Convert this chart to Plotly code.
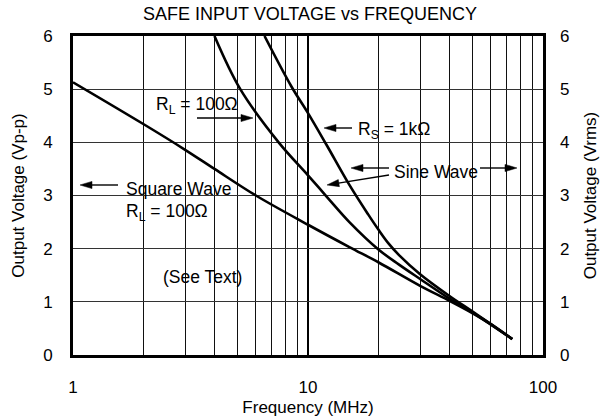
import math
import plotly.graph_objects as go

# ---- data ----
freq_square = [1, 2, 3, 4, 6, 10, 15, 20, 30, 40, 50, 60, 74]
volt_square = [5.13, 4.34, 3.86, 3.5, 3.0, 2.45, 2.03, 1.74, 1.3, 1.02, 0.79, 0.58, 0.3]

freq_sine_rl = [4.0, 5.15, 7.5, 10, 12, 15, 20, 24.4, 30, 40, 50, 60, 74]
volt_sine_rl = [6.0, 5.0, 4.0, 3.38, 2.98, 2.5, 1.98, 1.7, 1.43, 1.06, 0.8, 0.57, 0.3]

freq_sine_rs = [6.53, 8.5, 10, 12, 15, 18, 20, 22, 24.4, 30, 40, 50, 60, 74]
volt_sine_rs = [6.0, 5.05, 4.55, 3.95, 3.2, 2.65, 2.35, 2.1, 1.88, 1.52, 1.11, 0.82, 0.58, 0.3]

x_major_ticks = [1, 10, 100]
x_major_labels = ["1", "10", "100"]
x_minor_ticks = [2, 3, 4, 5, 6, 7, 8, 9, 20, 30, 40, 50, 60, 70, 80, 90]
y_ticks = [0, 1, 2, 3, 4, 5, 6]

FONT = "Liberation Sans, Arial, Helvetica, sans-serif"
W, H = 602, 420
L, R, T, B = 73, 59, 36, 65
PW, PH = W - L - R, H - T - B


def pxx(px):
    return (px - L) / PW


def pxy(py):
    return (H - B - py) / PH


fig = go.Figure()
line_style = dict(color="black", width=2.6, shape="spline", smoothing=1.0)
for fx, vy in [(freq_square, volt_square), (freq_sine_rl, volt_sine_rl), (freq_sine_rs, volt_sine_rs)]:
    fig.add_trace(go.Scatter(x=fx, y=vy, mode="lines", line=line_style,
                             showlegend=False, hoverinfo="skip"))
# right-hand axis (same scale)
fig.add_trace(go.Scatter(x=[freq_square[0]], y=[volt_square[0]], yaxis="y2", mode="lines",
                         line=dict(width=0), showlegend=False, hoverinfo="skip"))

# white boxes behind labels (above grid, below curves)
boxes = [(153, 93, 258, 126), (120, 176, 237, 223), (157, 262, 248, 292),
         (330, 112, 438, 148), (345, 161, 522, 183)]
shapes = []
for x0, y0, x1, y1 in boxes:
    shapes.append(dict(type="rect", xref="paper", yref="paper", x0=pxx(x0), x1=pxx(x1),
                       y0=pxy(y1), y1=pxy(y0), fillcolor="white", line=dict(width=0),
                       layer="between"))


def arrow(hx, hy, tx, ty, hl=12.0, hw=3.6):
    dx, dy = hx - tx, hy - ty
    d = math.hypot(dx, dy)
    ux, uy = dx / d, dy / d
    bx, by = hx - ux * hl, hy - uy * hl
    nx, ny = -uy * hw, ux * hw
    shapes.append(dict(type="line", xref="paper", yref="paper", x0=pxx(tx), y0=pxy(ty),
                       x1=pxx(bx + ux * 2), y1=pxy(by + uy * 2),
                       line=dict(color="black", width=1.4), layer="above"))
    pts = [(hx, hy), (bx + nx, by + ny), (bx - nx, by - ny)]
    path = "M " + " L ".join(f"{pxx(a):.5f},{pxy(b):.5f}" for a, b in pts) + " Z"
    shapes.append(dict(type="path", xref="paper", yref="paper", path=path,
                       fillcolor="black", line=dict(color="black", width=0.5), layer="above"))


tf = dict(family=FONT, size=17.5, color="black")
ann = []


def text(px, py, s, xanchor="center"):
    ann.append(dict(x=pxx(px), y=pxy(py), xref="paper", yref="paper", text=s,
                    showarrow=False, font=tf, xanchor=xanchor, yanchor="middle"))


text(197, 105, "R<sub>L</sub> = 100Ω")
arrow(253, 118, 197, 118)
text(124, 189, "Square Wave", "left")
text(124, 212, "R<sub>L</sub> = 100Ω", "left")
arrow(80, 185, 118, 185)
text(202, 277, "(See Text)")
text(356, 130, "R<sub>S</sub> = 1kΩ", "left")
arrow(324, 128, 352, 128)
text(392, 172, "Sine Wave", "left")
arrow(351, 168, 389, 168)
arrow(327, 185, 389, 175)
arrow(517, 168, 480, 168)

axis_font = dict(family=FONT, size=17, color="black")
fig.update_layout(
    width=W, height=H, margin=dict(l=L, r=R, t=T, b=B, autoexpand=False),
    paper_bgcolor="white", plot_bgcolor="white",
    font=axis_font,
    title=dict(text="SAFE INPUT VOLTAGE vs FREQUENCY", x=pxx(310), xref="paper",
               y=1 - 14 / H, yref="container", yanchor="middle", xanchor="center",
               font=dict(family=FONT, size=18)),
    xaxis=dict(type="log", range=[0, 2], tickvals=x_major_ticks, ticktext=x_major_labels,
               showgrid=True, gridcolor="black", gridwidth=2.2, zeroline=False, automargin=False,
               showline=True, linecolor="black", linewidth=2.8, mirror=True,
               ticks="", ticklabelstandoff=15, tickfont=axis_font,
               title=dict(text="Frequency (MHz)", font=axis_font, standoff=5),
               minor=dict(tickvals=x_minor_ticks, showgrid=True, gridcolor="#111", gridwidth=1.1,
                          ticks="")),
    yaxis=dict(range=[0, 6], tickvals=y_ticks, showgrid=True, gridcolor="#333", gridwidth=1.2,
               zeroline=False, showline=True, linecolor="black", linewidth=2.8, mirror=True,
               automargin=False, ticks="", ticklabelstandoff=14, tickfont=axis_font,
               title=dict(text="Output Voltage (Vp-p)", font=axis_font, standoff=15)),
    yaxis2=dict(range=[0, 6], tickvals=y_ticks, overlaying="y", side="right", showgrid=False,
                zeroline=False, showline=False, automargin=False, ticks="", ticklabelstandoff=16,
                tickfont=axis_font,
                title=dict(text="Output Voltage (Vrms)", font=axis_font, standoff=15)),
    shapes=shapes, annotations=ann,
)

fig.write_html("out.html", config={"displayModeBar": False},
               post_script="document.body.style.margin='0';")
